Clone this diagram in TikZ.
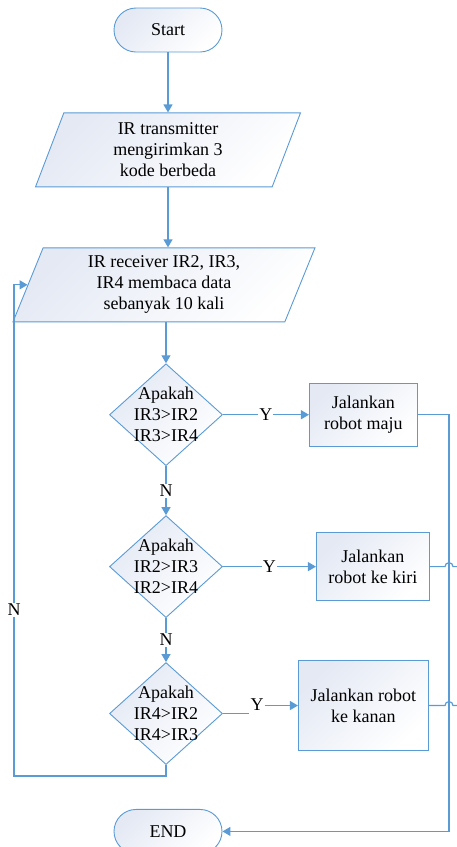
\documentclass[tikz,border=0pt]{standalone}
\usepackage{fontspec}
\setmainfont{Liberation Serif}
\usetikzlibrary{positioning,arrows.meta,shapes.geometric,calc}
\definecolor{flowblue}{HTML}{5B9BD5}
\definecolor{flowfill}{HTML}{E4E9F4}

\begin{document}
\begin{tikzpicture}[
    x=1pt, y=1pt,
    font=\fontsize{18}{21}\selectfont,
    >={Triangle[length=8pt,width=9pt]},
    shadedfill/.style={top color=flowfill, bottom color=white, shading angle=45},
    terminal/.style={
        draw=flowblue,
        shadedfill,
        rounded corners=22pt,
        minimum width=108pt,
        minimum height=44pt,
        line width=0.9pt
    },
    iobox/.style={
        trapezium,
        trapezium left angle=64,
        trapezium right angle=116,
        trapezium stretches body,
        draw=flowblue,
        shadedfill,
        align=center,
        minimum height=74pt,
        inner sep=2pt,
        line width=0.9pt
    },
    decision/.style={
        diamond,
        draw=flowblue,
        shadedfill,
        inner sep=0pt,
        minimum width=113pt,
        minimum height=102pt,
        line width=0.9pt
    },
    dtext/.style={align=center, inner sep=0pt},
    actbox/.style={
        rectangle,
        draw=flowblue,
        shadedfill,
        align=center,
        line width=0.9pt
    },
    flow/.style={draw=flowblue, line width=1.2pt},
    flowarrow/.style={flow, ->},
    answer/.style={fill=white, inner sep=1pt}
]

    \useasboundingbox (0,0) rectangle (457,-847);

    \node[terminal] (start) at (168,-30) {Start};

    \node[iobox, minimum width=265pt, below=60pt of start] (transmit) {
        IR transmitter\\
        mengirimkan 3\\
        kode berbeda
    };

    \node[iobox, minimum width=302pt, below=60pt of transmit, xshift=-4pt] (receive) {
        IR receiver IR2, IR3,\\
        IR4 membaca data\\
        sebanyak 10 kali
    };

    \node[decision, below=41pt of receive, xshift=2pt,
        label={[dtext]center:Apakah\\IR3>IR2\\IR3>IR4}] (cek1) {};
    \node[decision, below=49pt of cek1,
        label={[dtext]center:Apakah\\IR2>IR3\\IR2>IR4}] (cek2) {};
    \node[decision, below=44pt of cek2,
        label={[dtext]center:Apakah\\IR4>IR2\\IR4>IR3}] (cek3) {};

    \node[terminal, below=44pt of cek3, xshift=2pt] (finish) {END};

    \node[actbox, minimum width=108pt, minimum height=63pt, right=86pt of cek1] (maju) {Jalankan\\robot maju};
    \node[actbox, minimum width=113pt, minimum height=68pt, right=93pt of cek2] (kiri) {Jalankan\\robot ke kiri};
    \node[actbox, minimum width=130pt, minimum height=90pt, right=75pt of cek3, yshift=8pt] (kanan) {Jalankan robot\\ke kanan};

    % helper points for the rails
    \coordinate (rail) at (449,0);
    \coordinate (edge) at (457,0);
    \coordinate (loopturn) at (14,-776);

    \draw[flowarrow] (start.south) -- (start.south |- transmit.north);
    \draw[flowarrow] (transmit.south) -- (transmit.south |- receive.north);
    \draw[flowarrow] (receive.south -| cek1.north) -- (cek1.north);

    \draw[flowarrow] (cek1.south) -- node[answer] {N} (cek2.north);
    \draw[flowarrow] (cek2.south) -- node[answer] {N} (cek3.north);

    \draw[flowarrow] (cek1.east) -- node[answer] {Y} (maju.west);
    \draw[flowarrow] (cek2.east) -- node[answer] {Y} (kiri.west);

    \node[answer] (ykanan) at (257,-705) {Y};
    \draw[flow] (cek3.east) -- (cek3.east -| ykanan.west);
    \draw[flowarrow] (ykanan.east |- kanan.west) -- (kanan.west);

    % back to reading
    \draw[flowarrow] (cek3.south) |- (loopturn) |- (receive.left side);
    \node[answer] (nloop) at (14,-610) {N};

    % outputs to END
    \draw[flowarrow] (maju.east) -| (rail |- finish.east) -- (finish.east);
    \draw[flow] (kiri.east) -- ($(kiri.east -| rail)+(-4,0)$)
        arc[start angle=180, end angle=0, radius=4pt] -- (kiri.east -| edge);
    \draw[flow] (kanan.east) -- ($(kanan.east -| rail)+(-4,0)$)
        arc[start angle=180, end angle=0, radius=4pt] -- (kanan.east -| edge);

\end{tikzpicture}
\end{document}
